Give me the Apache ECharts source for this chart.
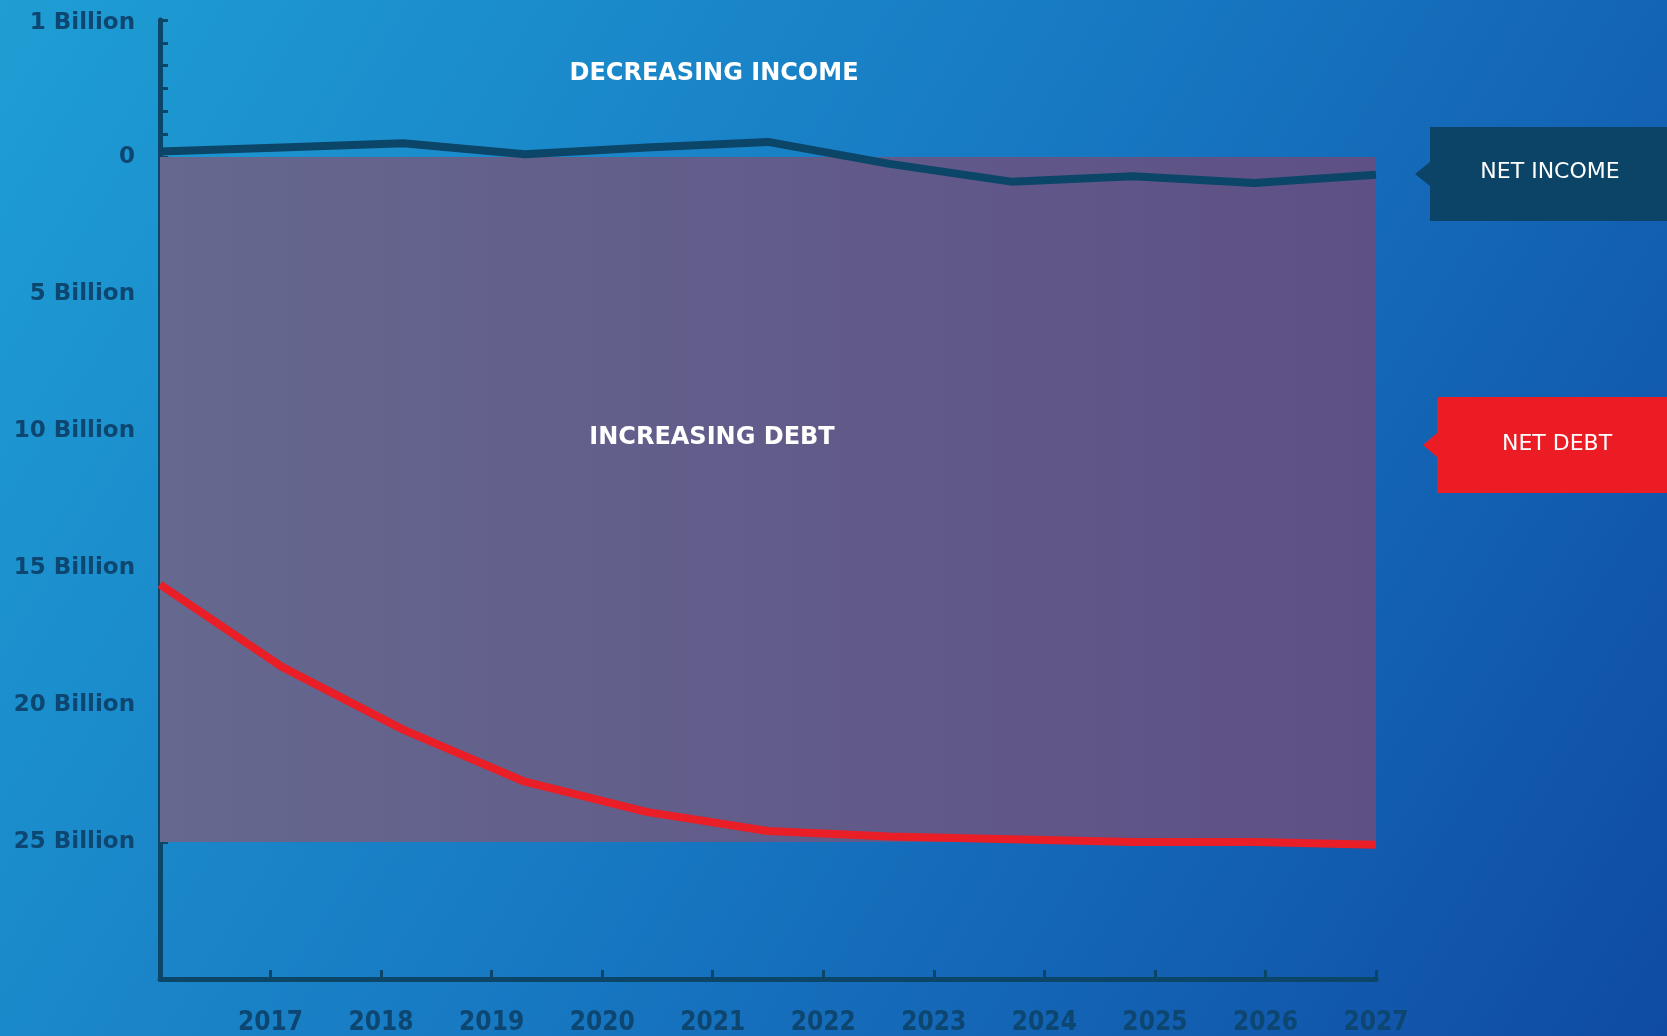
<!DOCTYPE html>
<html>
<head>
<meta charset="utf-8">
<title>Net income and net debt</title>
<script src="https://cdn.jsdelivr.net/npm/echarts@6/dist/echarts.min.js"></script>
<style>
html, body { margin: 0; padding: 0; }
#chart { width: 1667px; height: 1036px; }
</style>
</head>
<body>
<div id="chart"></div>
<script>
// points along the year axis (11 periods spread over 2016 - 2027)
var pointYears = [2016.0, 2017.1, 2018.2, 2019.3, 2020.4, 2021.5, 2022.6, 2023.7, 2024.8, 2025.9, 2027.0];
// net income, in billions
var netIncome = [0.04, 0.07, 0.10, 0.02, 0.07, 0.11, -0.05, -0.18, -0.14, -0.19, -0.13];
// net debt, in billions
var netDebt = [15.6, 18.6, 20.9, 22.8, 23.9, 24.6, 24.8, 24.9, 25.0, 25.0, 25.1];
// shaded "increasing debt" band, in billions
var debtBand = [0, 25];

var yearTicks = [2017, 2018, 2019, 2020, 2021, 2022, 2023, 2024, 2025, 2026, 2027];
var yTickValues = [-5, 0, 5, 10, 15, 20, 25];
var yTickLabels = ['1 Billion', '0', '5 Billion', '10 Billion', '15 Billion', '20 Billion', '25 Billion'];
var incomeMinorTicks = [-5, -25 / 6, -20 / 6, -15 / 6, -10 / 6, -5 / 6];

// the top of the axis is stretched: 1 billion of income takes the room of 5 billion of debt
var INCOME_SCALE = 5;

var navy = '#0b4568';
var labelColor = '#0d4670';

var chart = echarts.init(document.getElementById('chart'));

function incomeData() {
    var out = [];
    for (var i = 0; i < pointYears.length; i++) {
        out.push([pointYears[i], -netIncome[i] * INCOME_SCALE]);
    }
    return out;
}

function debtData() {
    var out = [];
    for (var i = 0; i < pointYears.length; i++) {
        out.push([pointYears[i], netDebt[i]]);
    }
    return out;
}

chart.setOption({
    animation: false,
    backgroundColor: new echarts.graphic.LinearGradient(0, 0, 1, 1, [
        { offset: 0, color: '#1e9ed4' },
        { offset: 0.5, color: '#1778c2' },
        { offset: 1, color: '#0f4ba3' }
    ]),
    grid: {
        left: 160,
        right: 291,
        top: 20,
        bottom: 57
    },
    xAxis: {
        type: 'value',
        min: 2016,
        max: 2027,
        interval: 1,
        splitLine: { show: false },
        axisLine: { onZero: false, lineStyle: { color: navy, width: 5 } },
        axisTick: {
            inside: true,
            length: 9,
            customValues: yearTicks,
            lineStyle: { color: navy, width: 3 }
        },
        axisLabel: {
            customValues: yearTicks,
            margin: 31,
            color: labelColor,
            fontFamily: '"DejaVu Sans Condensed", Roboto, sans-serif',
            fontWeight: 'bold',
            fontSize: 26,
            formatter: function (v) {
                return String(v);
            }
        }
    },
    yAxis: {
        type: 'value',
        inverse: true,
        min: -5,
        max: 30,
        interval: 5,
        splitLine: { show: false },
        axisLine: { show: true, onZero: false, lineStyle: { color: navy, width: 5 } },
        axisTick: {
            show: true,
            inside: true,
            length: 8,
            customValues: incomeMinorTicks.concat([0, 5, 10, 15, 20, 25]),
            lineStyle: { color: navy, width: 3 }
        },
        axisLabel: {
            customValues: yTickValues,
            margin: 25,
            color: labelColor,
            fontFamily: 'DejaVu Sans',
            fontWeight: 'bold',
            fontSize: 23,
            formatter: function (v) {
                var idx = yTickValues.indexOf(v);
                if (idx === 0) {
                    return '{top|' + yTickLabels[idx] + '}';
                }
                return idx >= 0 ? yTickLabels[idx] : '';
            },
            rich: {
                top: {
                    color: labelColor,
                    fontFamily: 'DejaVu Sans',
                    fontWeight: 'bold',
                    fontSize: 23,
                    padding: [6, 0, 0, 0]
                }
            }
        }
    },
    series: [
        {
            name: 'NET DEBT',
            type: 'line',
            data: debtData(),
            symbol: 'none',
            z: 4,
            lineStyle: { color: '#e91e26', width: 8 },
            markArea: {
                silent: true,
                itemStyle: {
                    color: new echarts.graphic.LinearGradient(0, 0, 1, 0, [
                        { offset: 0, color: '#65688f' },
                        { offset: 1, color: '#5e5085' }
                    ])
                },
                data: [[{ coord: [2016, debtBand[0]] }, { coord: [2027, debtBand[1]] }]]
            }
        },
        {
            name: 'NET INCOME',
            type: 'line',
            data: incomeData(),
            symbol: 'none',
            z: 5,
            lineStyle: { color: navy, width: 8 }
        }
    ],
    graphic: [
        {
            type: 'text', x: 714, y: 74, z: 100,
            style: {
                text: 'DECREASING INCOME', fill: '#ffffff',
                font: 'bold 24px "DejaVu Sans"', align: 'center', verticalAlign: 'middle'
            }
        },
        {
            type: 'text', x: 712, y: 438, z: 100,
            style: {
                text: 'INCREASING DEBT', fill: '#ffffff',
                font: 'bold 24px "DejaVu Sans"', align: 'center', verticalAlign: 'middle'
            }
        },
        {
            type: 'polygon', z: 100,
            shape: { points: [[1430, 127], [1667, 127], [1667, 221], [1430, 221], [1430, 186], [1415, 174], [1430, 162]] },
            style: { fill: '#0c4468' }
        },
        {
            type: 'text', x: 1550, y: 172, z: 101,
            style: {
                text: 'NET INCOME', fill: '#ffffff',
                font: '22px "DejaVu Sans"', align: 'center', verticalAlign: 'middle'
            }
        },
        {
            type: 'polygon', z: 100,
            shape: { points: [[1437, 397], [1667, 397], [1667, 493], [1437, 493], [1437, 457], [1423, 445], [1437, 433]] },
            style: { fill: '#ec1c24' }
        },
        {
            type: 'text', x: 1557, y: 444, z: 101,
            style: {
                text: 'NET DEBT', fill: '#ffffff',
                font: '22px "DejaVu Sans"', align: 'center', verticalAlign: 'middle'
            }
        }
    ]
});
</script>
</body>
</html>
